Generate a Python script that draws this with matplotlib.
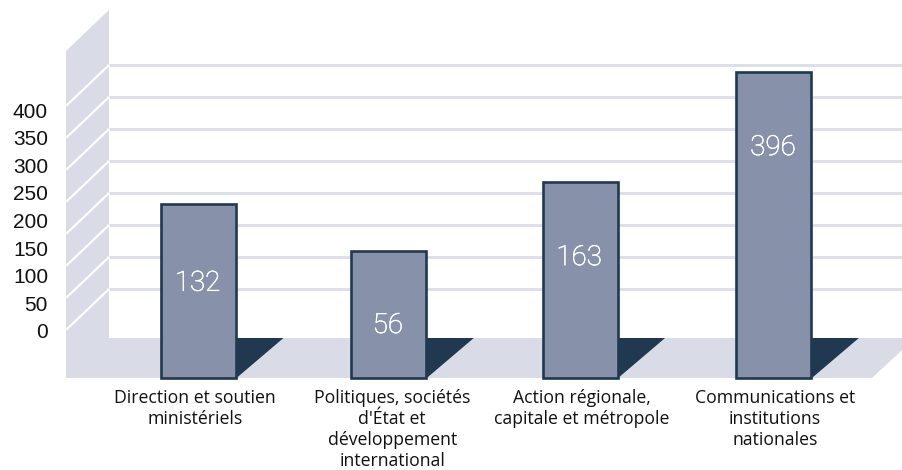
import matplotlib
matplotlib.use('Agg')
import matplotlib.pyplot as plt
import matplotlib.patheffects as pe
from matplotlib.patches import Polygon

# Data
categories = ['Direction et soutien\nministériels',
              "Politiques, sociétés\nd'État et\ndéveloppement\ninternational",
              'Action régionale,\ncapitale et métropole',
              'Communications et\ninstitutions\nnationales']
value_labels = [132, 56, 163, 396]
# drawn heights do not follow the printed values, in gridline units (50 per step)
bar_heights = [272, 198, 306, 478]
label_heights = [152, 86, 192, 364]
tick_values = [0, 50, 100, 150, 200, 250, 300, 350, 400]

WALL = '#d9dce6'
GRID = '#dcdee8'
BAR = '#8792aa'
DARK = '#213950'

W, H = 903, 470
UNIT = 1.5625   # value units per pixel
STEP = 191.8    # pixels between categories
X0 = 198.5      # pixel centre of first bar

# small nudges in pixels, the original is not evenly spaced
bar_nudge = [0, -1.5, -2, 0]
text_nudge = [-3.5, 2, 0, 1]


def px(x):
    return (x - X0) / STEP


def py(y):
    return (378 - y) * UNIT


fig = plt.figure(figsize=(W / 100, H / 100), dpi=100)
ax = fig.add_axes((0, 0, 1, 1))
ax.set_xlim(px(0), px(W))
ax.set_ylim(py(H), py(0))
ax.axis('off')

# Wall and floor as one shape
ax.add_patch(Polygon([(px(66), py(51)), (px(109), py(10)), (px(109), py(338)), (px(915), py(338)),
                      (px(872), py(378)), (px(66), py(378))],
                     fc=WALL, ec='none', zorder=1))

# Gridlines on the back and their white slant on the wall
for g in range(8):
    y_back = 65 + 32 * g
    ax.plot([px(109), px(W)], [py(y_back), py(y_back)], color=GRID, lw=2.0, zorder=2,
            solid_capstyle='butt')
    ax.plot([px(66), px(109)], [py(y_back + 41), py(y_back)], color='white', lw=1.6, zorder=2,
            solid_capstyle='butt')

# Bars with their floor shadow
bar_x = [i + bar_nudge[i] / STEP for i in range(len(categories))]
bar_w = 75 / STEP
ax.bar(bar_x, bar_heights, width=bar_w, color=BAR, edgecolor=DARK, linewidth=1.9, zorder=4)
for i in range(len(categories)):
    right = X0 + i * STEP + bar_nudge[i] + 38
    ax.add_patch(Polygon([(px(right), py(378)), (px(right + 47), py(338)), (px(right), py(338))],
                         fc=DARK, ec='none', zorder=3))
    t = ax.text(bar_x[i] - 0.005, label_heights[i] - 4, str(value_labels[i]), color='white', fontsize=20,
                family='Roboto', fontweight='light', ha='center', va='center', zorder=5)
    t.set_path_effects([pe.withStroke(linewidth=0.4, foreground='white')])
    ax.text(i + text_nudge[i] / STEP, py(389), categories[i], color='#111111', fontsize=12.7,
            family='Open Sans', ha='center', va='top', linespacing=1.22, zorder=5)

# Tick labels sit on their own spacing, not on the gridlines
tick_ax = fig.add_axes((54 / W, (H - 331) / H, 2 / W, (331 - 110) / H))
tick_ax.set_xlim(0, 1)
tick_ax.set_ylim(0, 400)
tick_ax.patch.set_alpha(0)
tick_ax.set_xticks([])
tick_ax.set_yticks(tick_values)
tick_ax.tick_params(axis='y', length=0, pad=4.3, labelsize=15, labelcolor='#111111')
for lab in tick_ax.get_yticklabels():
    lab.set_family('Liberation Sans')
for s in tick_ax.spines.values():
    s.set_visible(False)

plt.savefig('out.png', dpi=100)
plt.close()
